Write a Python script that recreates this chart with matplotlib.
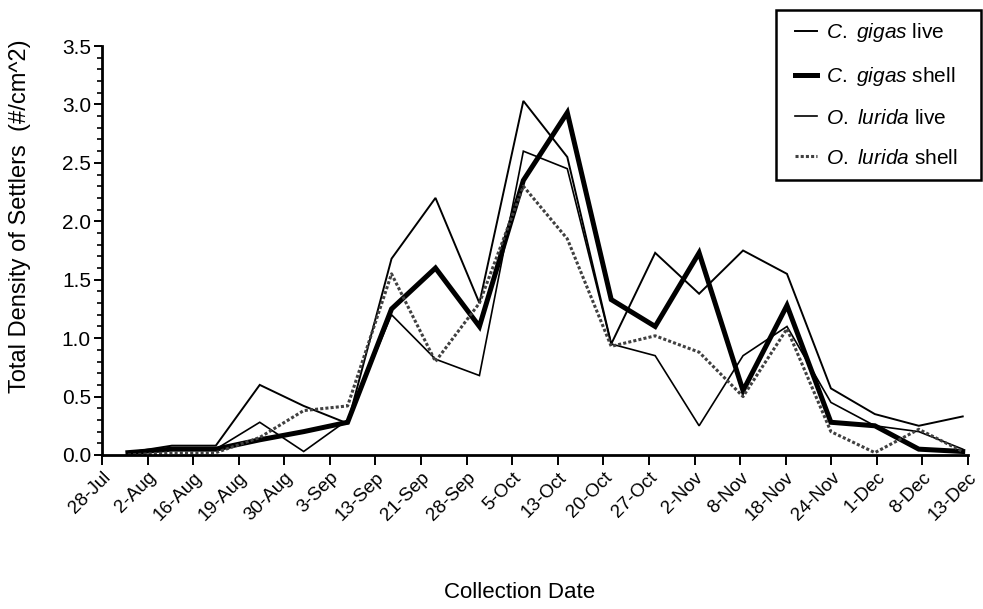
import matplotlib
matplotlib.use("Agg")
import matplotlib.pyplot as plt
from matplotlib.ticker import MultipleLocator, FormatStrFormatter
from matplotlib.patches import Rectangle
from matplotlib.lines import Line2D
import numpy as np

plt.rcParams['font.family'] = ['Liberation Sans', 'DejaVu Sans']
plt.rcParams['mathtext.fontset'] = 'custom'
plt.rcParams['mathtext.it'] = 'Liberation Sans:italic'
plt.rcParams['mathtext.rm'] = 'Liberation Sans'

dates = ['28-Jul', '2-Aug', '16-Aug', '19-Aug', '30-Aug', '3-Sep', '13-Sep', '21-Sep',
         '28-Sep', '5-Oct', '13-Oct', '20-Oct', '27-Oct', '2-Nov', '8-Nov', '18-Nov',
         '24-Nov', '1-Dec', '8-Dec', '13-Dec']

cgigas_live = [0.02, 0.08, 0.08, 0.60, 0.42, 0.27, 1.68, 2.20, 1.30, 3.03,
               2.55, 0.95, 1.73, 1.38, 1.75, 1.55, 0.57, 0.35, 0.25, 0.33]
cgigas_shell = [0.02, 0.05, 0.05, 0.13, 0.20, 0.28, 1.25, 1.60, 1.10, 2.35,
                2.93, 1.33, 1.10, 1.73, 0.55, 1.28, 0.28, 0.25, 0.05, 0.03]
olurida_live = [0.02, 0.05, 0.05, 0.28, 0.03, 0.30, 1.20, 0.82, 0.68, 2.60,
                2.45, 0.95, 0.85, 0.25, 0.85, 1.10, 0.45, 0.25, 0.20, 0.05]
olurida_shell = [0.00, 0.02, 0.02, 0.15, 0.38, 0.42, 1.55, 0.80, 1.30, 2.30,
                 1.85, 0.93, 1.02, 0.88, 0.50, 1.08, 0.20, 0.02, 0.22, 0.03]

labels = [r'$\it{C.}$ $\it{gigas}$ live', r'$\it{C.}$ $\it{gigas}$ shell',
          r'$\it{O.}$ $\it{lurida}$ live', r'$\it{O.}$ $\it{lurida}$ shell']

W, H = 983, 609
fig = plt.figure(figsize=(W / 100, H / 100), dpi=100)
ax = fig.add_axes([102 / W, 1 - 455 / H, (968 - 102) / W, (455 - 46) / H])

x = np.arange(len(dates))
styles = [dict(color='black', lw=1.4),
          dict(color='black', lw=3.6),
          dict(color='black', lw=1.2),
          dict(color='0.25', lw=2.2, linestyle=(0, (1.0, 0.7)))]
series = [cgigas_live, cgigas_shell, olurida_live, olurida_shell]
for vals, st, lab in zip(series, styles, labels):
    ax.plot(x, vals, label=lab, solid_joinstyle='miter', **st)

x0, x1 = -0.59, 19.12
ax.set_xlim(x0, x1)
ax.set_ylim(0, 3.5)
ax.yaxis.set_major_locator(MultipleLocator(0.5))
ax.yaxis.set_minor_locator(MultipleLocator(0.1))
ax.yaxis.set_major_formatter(FormatStrFormatter('%.1f'))

# category labels sit at evenly spaced ticks spanning the axis
tick_pos = np.linspace(x0, x1, len(dates))
ax.set_xticks(tick_pos)
ax.set_xticklabels(dates, rotation=45, ha='right', va='top', rotation_mode='anchor',
                   fontsize=13.5)
ax.tick_params(axis='y', labelsize=15, length=6, width=1.4, direction='out', pad=2)
ax.tick_params(axis='y', which='minor', length=3.5, width=1.2)
ax.tick_params(axis='x', length=7, width=1.4, direction='out', pad=3)

for s in ['top', 'right']:
    ax.spines[s].set_visible(False)
for s in ['left', 'bottom']:
    ax.spines[s].set_linewidth(2.0)

fig.text(20 / W, 1 - 216 / H, 'Total Density of Settlers  (#/cm^2)', rotation=90,
         ha='center', va='center', fontsize=17)
fig.text(520 / W, 1 - 592 / H, 'Collection Date', ha='center', va='center', fontsize=16)

# legend box
fig.patches.append(Rectangle((776 / W, 1 - 180 / H), (981 - 776) / W, (180 - 10) / H,
                             transform=fig.transFigure, fill=False, edgecolor='black',
                             lw=1.8))
handles = [Line2D([], [], **st) for st in styles]
leg = fig.legend(handles, labels, loc='upper left', bbox_to_anchor=(795 / W, 1 - 21 / H),
                 fontsize=15, frameon=False, handlelength=1.05, handletextpad=0.45,
                 labelspacing=1.0, borderpad=0, borderaxespad=0)

fig.savefig('out.png', dpi=100)
